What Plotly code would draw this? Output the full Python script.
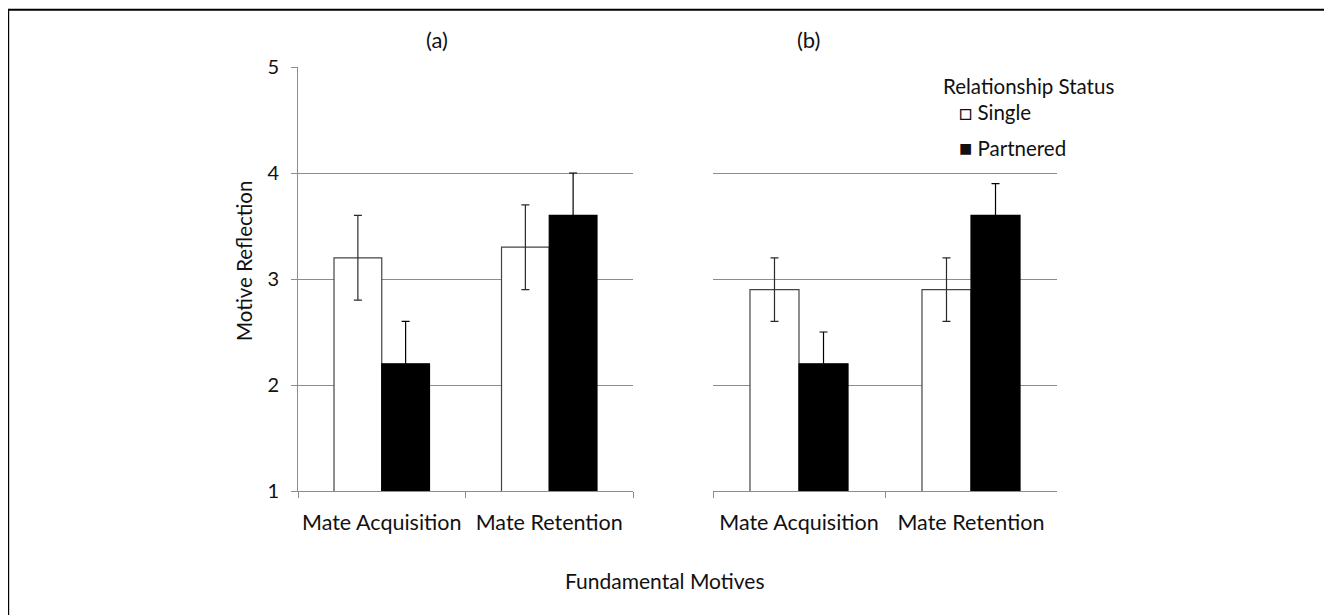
import plotly.graph_objects as go

# ---- data ----
categories = ["Mate Acquisition", "Mate Retention"]
a_single = [3.2, 3.3]
a_single_err = [0.4, 0.4]
a_partnered = [2.2, 3.6]
a_partnered_err = [0.4, 0.4]
b_single = [2.9, 2.9]
b_single_err = [0.3, 0.3]
b_partnered = [2.2, 3.6]
b_partnered_err = [0.3, 0.3]
y_ticks = [1, 2, 3, 4, 5]
series_names = ["Single", "Partnered"]

W, H = 1332, 615
OFF = 8  # page body margin


def px(x):
    return (x - OFF) / W


def py(y):
    return 1 - (y - OFF) / H


FONT = "Lato"
GRID = "#8c8c8c"
fig = go.Figure()


def add_bar(x_ref, y_ref, vals, errs, name, fill, line, ecol):
    fig.add_trace(go.Bar(
        x=categories, y=vals, name=name, xaxis=x_ref, yaxis=y_ref,
        marker=dict(color=fill, line=dict(color=line, width=1.2)),
        error_y=dict(type="data", array=errs, visible=True,
                     color=ecol, thickness=1.2, width=4),
        showlegend=False,
    ))


add_bar("x", "y", a_single, a_single_err, series_names[0], "white", "#444444", "#2a2a2a")
add_bar("x", "y", a_partnered, a_partnered_err, series_names[1], "black", "black", "black")
add_bar("x2", "y2", b_single, b_single_err, series_names[0], "white", "#444444", "#2a2a2a")
add_bar("x2", "y2", b_partnered, b_partnered_err, series_names[1], "black", "black", "black")

ydom = [py(491), py(67)]
xcommon = dict(type="category", range=[-0.5, 1.5], showline=True, linecolor=GRID,
               linewidth=1, ticks="outside", tickson="boundaries", ticklen=6,
               tickcolor=GRID, showgrid=False, automargin=False, tickangle=0,
               tickfont=dict(family=FONT, size=21.5, color="#111111"),
               ticklabelstandoff=12)

fig.update_layout(
    width=W, height=H,
    margin=dict(l=0, r=0, t=0, b=0),
    paper_bgcolor="white", plot_bgcolor="white",
    barmode="group", bargap=0.43, bargroupgap=0,
    showlegend=False,
    font=dict(family=FONT, color="#111111"),
    xaxis=dict(domain=[px(298), px(633)], anchor="y", **xcommon),
    xaxis2=dict(domain=[px(713), px(1057)], anchor="y2", **xcommon),
    yaxis=dict(domain=ydom, anchor="x", range=[1, 5], tickvals=y_ticks,
               showline=True, linecolor=GRID, linewidth=1, ticks="outside",
               ticklen=6, tickcolor=GRID, showgrid=True, gridcolor=GRID,
               gridwidth=1, zeroline=False, automargin=False,
               tickfont=dict(family=FONT, size=20, color="#111111"),
               ticklabelstandoff=8),
    yaxis2=dict(domain=ydom, anchor="x2", range=[1, 5], tickvals=y_ticks,
                showline=False, ticks="", showticklabels=False, showgrid=True,
                gridcolor=GRID, gridwidth=1, zeroline=False, automargin=False),
)

SQ = "<span style='font-size:22px'>%s</span>"
ann = [
    dict(text="(a)", x=px(437), y=py(40), size=22, xanchor="center"),
    dict(text="(b)", x=px(808), y=py(40), size=22, xanchor="center"),
    dict(text="Relationship Status", x=px(941), y=py(86), size=20.5, xanchor="left"),
    dict(text=(SQ % "\u25a1") + " Single", x=px(957), y=py(112), size=20.5, xanchor="left"),
    dict(text=(SQ % "\u25a0") + " Partnered", x=px(957), y=py(147), size=20.5, xanchor="left"),
    dict(text="Fundamental Motives", x=px(665), y=py(580), size=21, xanchor="center"),
]
for a in ann:
    fig.add_annotation(text=a["text"], x=a["x"], y=a["y"], xref="paper", yref="paper",
                       xanchor=a["xanchor"], yanchor="middle", showarrow=False,
                       font=dict(family=FONT, size=a["size"], color="#111111"))

fig.add_annotation(text="Motive Reflection", x=px(244), y=py(261), xref="paper",
                   yref="paper", textangle=-90, showarrow=False,
                   xanchor="center", yanchor="middle",
                   font=dict(family=FONT, size=20.5, color="#111111"))

# outer frame (open on the right and bottom, as cropped in the reference)
fig.add_shape(type="line", xref="paper", yref="paper",
              x0=px(8.2), y0=py(9.8), x1=px(8.2), y1=-0.05,
              line=dict(color="black", width=2), layer="above")
fig.add_shape(type="line", xref="paper", yref="paper",
              x0=px(7), y0=py(9.8), x1=1.05, y1=py(9.8),
              line=dict(color="black", width=2), layer="above")

fig.write_html("out.html")
